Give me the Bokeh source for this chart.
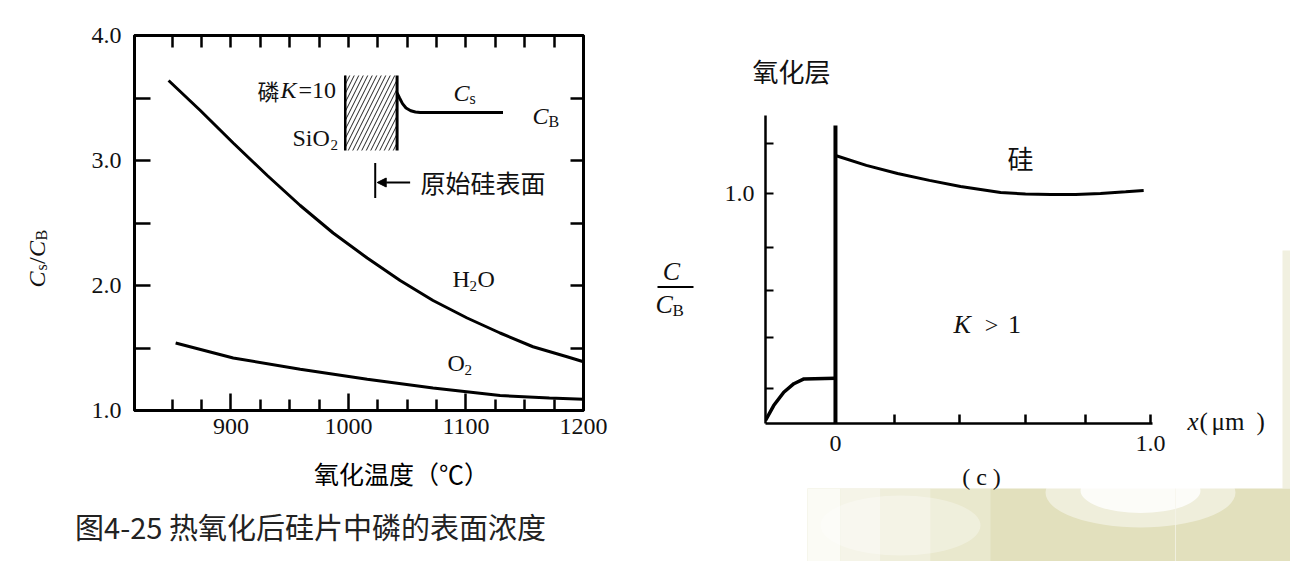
import math
from bokeh.plotting import figure
from bokeh.layouts import row, column
from bokeh.models import (Range1d, LinearAxis, FixedTicker, PrintfTickFormatter,
                          CustomJSTickFormatter, Label, Arrow, NormalHead)
from bokeh.embed import file_html
from bokeh.resources import INLINE

SERIF = "Liberation Serif"
CJK = "Noto Sans CJK SC"
INK = "#111111"

# ---------------- data: left chart (Cs/CB vs oxidation temperature) ----------------
temp_h2o = [847, 874, 902, 931, 959, 987, 1016, 1044, 1072, 1101, 1129, 1157, 1186, 1200]
ratio_h2o = [3.64, 3.40, 3.14, 2.88, 2.64, 2.42, 2.22, 2.04, 1.88, 1.74, 1.62, 1.51, 1.43, 1.39]
temp_o2 = [853, 902, 959, 1016, 1072, 1129, 1171, 1200]
ratio_o2 = [1.54, 1.42, 1.33, 1.25, 1.18, 1.12, 1.10, 1.09]

x_ticks = [900, 1000, 1100, 1200]
x_minor = [850, 875, 925, 950, 975, 1025, 1050, 1075, 1125, 1150, 1175]
x_top_ticks = [850, 875, 900, 925, 950, 975, 1000, 1025, 1050, 1075, 1100, 1125, 1150, 1175]
y_ticks = [1.0, 2.0, 3.0, 4.0]
y_minor = [1.5, 2.5, 3.5]
y_right_ticks = [1.5, 2.0, 2.5, 3.0, 3.5]

# inset sketch (SiO2 band and phosphorus profile)
oxide_band_x = [997.3, 1041.4]
oxide_band_y = [3.08, 3.68]
profile_x = [1041.4, 1043.5, 1046.0, 1049.0, 1053.0, 1057.0, 1061.0, 1131.5]
profile_y = [3.54, 3.50, 3.455, 3.42, 3.398, 3.388, 3.384, 3.384]
surface_x = 1022.8
surface_y = [2.70, 2.98]
arrow_x = [1052.5, 1024.5]
arrow_y = 2.824

# ---------------- data: right chart (C/CB vs depth) ----------------
si_x = [0.0, 0.098, 0.197, 0.298, 0.397, 0.524, 0.603, 0.683, 0.762, 0.841, 0.921, 0.978]
si_y = [1.165, 1.122, 1.087, 1.057, 1.030, 1.004, 0.998, 0.996, 0.996, 1.0, 1.007, 1.013]
ox_x = [-0.222, -0.196, -0.164, -0.132, -0.10, 0.0]
ox_y = [0.013, 0.078, 0.136, 0.173, 0.194, 0.197]
interface_x = [0.0, 0.0]
interface_y = [0.0, 1.296]
r_y_ticks = [0.152, 0.374, 0.578, 0.765, 1.0, 1.217]
r_x_ticks = [0.0, 0.187, 0.394, 0.603, 0.794, 1.0]


# ---------------- helpers ----------------
def lx(px):
    return 818 + (px - 134) * 382 / 449


def ly(py):
    return 1 + (410 - py) * 3 / 375


def rx(px):
    return -0.222 + (px - 765) * 1.228 / 387


def ry(py):
    return (423 - py) * 1.339 / 308


def lab(p, x, y, text, font=SERIF, size=24, style="normal", align="center",
        baseline="middle", angle=0.0, color=INK):
    p.add_layout(Label(x=x, y=y, text=text, text_font=font, text_font_size=f"{size}px",
                       text_font_style=style, text_align=align, text_baseline=baseline,
                       angle=angle, text_color=color))


def style_axis(ax, tick_in, minor_in=0, width=3):
    ax.axis_line_width = width
    ax.axis_line_color = "black"
    ax.major_tick_in = tick_in
    ax.major_tick_out = 0
    ax.minor_tick_in = minor_in
    ax.minor_tick_out = 0
    ax.major_tick_line_width = 2.5
    ax.minor_tick_line_width = 2.5
    ax.major_tick_line_color = "black"
    ax.minor_tick_line_color = "black"
    ax.major_label_text_font = SERIF
    ax.major_label_text_font_size = "24px"
    ax.major_label_text_color = INK


def textfig(x0, y0, w, h):
    """A plain canvas region (page pixel coordinates) for text outside the chart frames."""
    f = figure(width=w, height=h, x_range=Range1d(x0, x0 + w), y_range=Range1d(y0 + h, y0),
               output_backend="svg", toolbar_location=None, min_border=0,
               x_axis_location=None, y_axis_location=None)
    f.grid.visible = False
    f.outline_line_color = None
    f.background_fill_color = "white"
    f.border_fill_color = "white"
    return f


# ================= left chart =================
chart_l = figure(width=588, height=452, x_range=Range1d(818, 1200), y_range=Range1d(1, 4),
                 output_backend="svg", toolbar_location=None,
                 min_border_left=74, min_border_right=65, min_border_top=35, min_border_bottom=42)
chart_l.grid.visible = False
chart_l.outline_line_color = "black"
chart_l.outline_line_width = 3
chart_l.background_fill_color = "white"
chart_l.border_fill_color = "white"

xb = chart_l.xaxis[0]
xb.ticker = FixedTicker(ticks=x_ticks, minor_ticks=x_minor)
style_axis(xb, 17, 11)
xb.major_label_standoff = 8

yl = chart_l.yaxis[0]
yl.ticker = FixedTicker(ticks=y_ticks, minor_ticks=y_minor)
yl.formatter = PrintfTickFormatter(format="%.1f")
style_axis(yl, 16, 16)
yl.major_label_standoff = 13

top_ax = LinearAxis(ticker=FixedTicker(ticks=x_top_ticks))
style_axis(top_ax, 12)
top_ax.major_label_text_font_size = "0px"
top_ax.major_label_text_color = None
chart_l.add_layout(top_ax, "above")

right_ax = LinearAxis(ticker=FixedTicker(ticks=y_right_ticks))
style_axis(right_ax, 13)
right_ax.major_label_text_font_size = "0px"
right_ax.major_label_text_color = None
chart_l.add_layout(right_ax, "right")

chart_l.line(temp_h2o, ratio_h2o, line_color="black", line_width=3)
chart_l.line(temp_o2, ratio_o2, line_color="black", line_width=3)

chart_l.quad(left=oxide_band_x[0], right=oxide_band_x[1], bottom=oxide_band_y[0], top=oxide_band_y[1],
             fill_color="white", line_color=None, hatch_pattern="/", hatch_color="#222222",
             hatch_scale=9, hatch_weight=1.0)
chart_l.line([oxide_band_x[0]] * 2, oxide_band_y, line_color="black", line_width=2.5)
chart_l.line([oxide_band_x[1]] * 2, oxide_band_y, line_color="black", line_width=3)
chart_l.line(profile_x, profile_y, line_color="black", line_width=3)
chart_l.line([surface_x] * 2, surface_y, line_color="black", line_width=2)
chart_l.add_layout(Arrow(x_start=arrow_x[0], y_start=arrow_y, x_end=arrow_x[1], y_end=arrow_y,
                         line_width=2, line_color="black",
                         end=NormalHead(size=9, fill_color="black", line_color="black")))

lab(chart_l, lx(257), ly(89), "磷", font=CJK, size=22, align="left")
lab(chart_l, lx(280), ly(89), "K", style="italic", align="left")
lab(chart_l, lx(298), ly(89), "=10", align="left")
lab(chart_l, lx(292), ly(137), "SiO", align="left")
lab(chart_l, lx(330), ly(144), "2", size=15, align="left")
lab(chart_l, lx(453), ly(92), "C", style="italic", align="left")
lab(chart_l, lx(469), ly(98), "s", size=16, align="left")
lab(chart_l, lx(532), ly(115), "C", style="italic", align="left")
lab(chart_l, lx(548), ly(121), "B", size=16, align="left")
lab(chart_l, lx(420), ly(181), "原始硅表面", font=CJK, size=25, align="left")
lab(chart_l, lx(452), ly(278), "H", align="left")
lab(chart_l, lx(469), ly(285), "2", size=15, align="left")
lab(chart_l, lx(477), ly(278), "O", align="left")
lab(chart_l, lx(447), ly(362), "O", align="left")
lab(chart_l, lx(464), ly(369), "2", size=15, align="left")

# y-axis title region (page x 0..60)
ytitle = textfig(0, 0, 60, 452)
up = math.pi / 2
lab(ytitle, 36, 287, "C", size=24, style="italic", align="left", baseline="alphabetic", angle=up)
lab(ytitle, 41, 270, "s", size=16, align="left", baseline="alphabetic", angle=up)
lab(ytitle, 36, 263.5, "/", size=24, align="left", baseline="alphabetic", angle=up)
lab(ytitle, 36, 256.5, "C", size=24, style="italic", align="left", baseline="alphabetic", angle=up)
lab(ytitle, 41, 240, "B", size=16, align="left", baseline="alphabetic", angle=up)

# x-axis title and caption region (page y 452..561)
caption = textfig(0, 452, 648, 109)
lab(caption, 401, 472, "氧化温度（℃）", font=CJK, size=25, color="#000000")
lab(caption, 310, 525, "图4-25 热氧化后硅片中磷的表面浓度", font=CJK, size=29, color="#222222")

left_block = column(row(column(ytitle), column(chart_l)), column(caption))

# ================= right chart =================
chart_r = figure(width=455, height=363, x_range=Range1d(-0.222, 1.006), y_range=Range1d(0, 1.339),
                 output_backend="svg", toolbar_location=None,
                 min_border_left=45, min_border_right=23, min_border_top=15, min_border_bottom=40)
chart_r.grid.visible = False
chart_r.outline_line_color = None
chart_r.background_fill_color = "white"
chart_r.border_fill_color = "white"

ryax = chart_r.yaxis[0]
ryax.ticker = FixedTicker(ticks=r_y_ticks)
ryax.formatter = CustomJSTickFormatter(code="return Math.abs(tick - 1) < 1e-6 ? '1.0' : '';")
style_axis(ryax, 8, 0, width=2.5)
ryax.major_tick_line_width = 2
ryax.major_label_standoff = 11

rxax = chart_r.xaxis[0]
rxax.ticker = FixedTicker(ticks=r_x_ticks)
rxax.formatter = CustomJSTickFormatter(
    code="if (Math.abs(tick) < 1e-6) return '0'; if (Math.abs(tick - 1) < 1e-6) return '1.0'; return '';")
style_axis(rxax, 9, 0, width=2.5)
rxax.major_label_standoff = 12

chart_r.line(interface_x, interface_y, line_color="black", line_width=4)
chart_r.line(si_x, si_y, line_color="black", line_width=3)
chart_r.line(ox_x, ox_y, line_color="black", line_width=3.5)

lab(chart_r, rx(1020), ry(157), "硅", font=CJK, size=26)
lab(chart_r, rx(953), ry(324), "K", size=26, style="italic", align="left")
lab(chart_r, rx(991), ry(324), ">", size=24)
lab(chart_r, rx(1014), ry(324), "1", size=26)

# text regions around the right chart
frac = textfig(648, 0, 72, 561)
lab(frac, 671, 271, "C", size=26, style="italic")
frac.segment(x0=657, y0=286.5, x1=693, y1=286.5, line_color="black", line_width=2)
lab(frac, 655, 304, "C", size=26, style="italic", align="left")
lab(frac, 672, 310, "B", size=17, align="left")

top_r = textfig(720, 0, 455, 100)
lab(top_r, 791, 70, "氧化层", font=CJK, size=26)

bot_r = textfig(720, 463, 455, 98)
xl_r = textfig(1175, 0, 115, 561)

# decorative slide background (bottom right)
for f in (bot_r, xl_r):
    f.quad(left=807, right=1290, top=488, bottom=561, fill_color="#e2e0bd", line_color=None)
    for l, r, a in [(807, 840, 0.85), (840, 880, 0.65), (880, 930, 0.45), (930, 990, 0.25)]:
        f.quad(left=l, right=r, top=488, bottom=561, fill_color="white", fill_alpha=a, line_color=None)
    f.ellipse(x=1140, y=492, width=190, height=70, fill_color="white", fill_alpha=0.45, line_color=None)
    f.ellipse(x=1140, y=490, width=120, height=45, fill_color="white", fill_alpha=0.8, line_color=None)
    f.ellipse(x=900, y=525, width=160, height=60, fill_color="white", fill_alpha=0.3, line_color=None)
    f.quad(left=1282, right=1290, top=250, bottom=488, fill_color="#e8e6cc", fill_alpha=0.6, line_color=None)

lab(bot_r, 981, 476, "( c )", size=24)
lab(xl_r, 1187, 421, "x", size=25, style="italic", align="left")
lab(xl_r, 1199, 421, "(", size=25, align="left")
lab(xl_r, 1211, 421, "μm", size=25, align="left")
lab(xl_r, 1256, 421, ")", size=25, align="left")

right_block = row(column(frac),
                  column(column(top_r), column(chart_r), column(bot_r)),
                  column(xl_r))

layout = row(left_block, right_block)
open("out.html", "w").write(file_html(layout, INLINE))
